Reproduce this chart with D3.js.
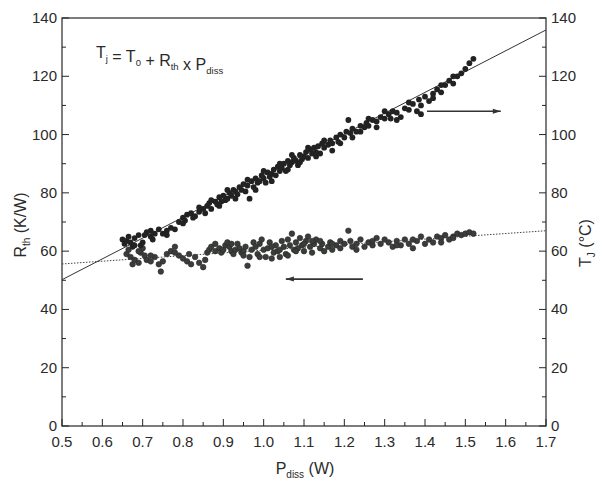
<!DOCTYPE html>
<html><head><meta charset="utf-8">
<script src="https://cdn.jsdelivr.net/npm/d3@7"></script>
<style>body{margin:0;background:#fff}svg{display:block}text{font-family:"Liberation Sans",Arial,sans-serif;fill:#2a2a2a}</style>
</head><body><svg id="c" width="605" height="484"></svg>
<script>
const xTicks = [0.5,0.6,0.7,0.8,0.9,1.0,1.1,1.2,1.3,1.4,1.5,1.6,1.7];
const yTicks = [0,20,40,60,80,100,120,140];
const tjX = [0.650,0.655,0.660,0.665,0.670,0.675,0.680,0.690,0.695,0.700,0.705,0.710,0.720,0.725,0.730,0.740,0.750,0.760,0.770,0.780,0.790,0.800,0.805,0.810,0.820,0.825,0.830,0.840,0.850,0.855,0.860,0.865,0.870,0.880,0.885,0.890,0.895,0.900,0.905,0.910,0.915,0.920,0.925,0.930,0.935,0.940,0.945,0.950,0.955,0.960,0.965,0.970,0.975,0.980,0.985,0.990,0.995,1.000,1.005,1.010,1.015,1.020,1.025,1.030,1.035,1.040,1.045,1.050,1.055,1.060,1.065,1.070,1.075,1.080,1.085,1.090,1.095,1.100,1.105,1.110,1.115,1.120,1.125,1.130,1.135,1.140,1.145,1.150,1.160,1.165,1.170,1.180,1.185,1.190,1.200,1.210,1.205,1.215,1.220,1.230,1.240,1.250,1.255,1.260,1.270,1.280,1.290,1.300,1.310,1.315,1.320,1.330,1.340,1.350,1.360,1.370,1.380,1.385,1.390,1.400,1.410,1.420,1.430,1.440,1.450,1.460,1.470,1.480,1.490,1.500,1.510,1.520,
  0.68,0.72,0.76,0.80,0.84,0.87,0.89,0.91,0.93,0.96,0.98,1.00,1.02,1.04,1.06,1.07,1.09,1.11,1.13,1.15,1.17,1.19,1.22,1.24,1.26,1.28,1.30,1.33,1.36,1.39,1.42,1.44,1.47];
const tjY = [64.0,62.5,63.5,65.0,63.0,61.5,64.5,65.5,62.0,63.0,65.5,66.5,65.0,64.0,66.0,67.5,66.0,67.0,68.0,67.5,70.0,71.5,70.5,72.5,73.0,71.5,72.0,73.5,74.5,73.0,75.5,76.5,74.5,77.0,76.0,78.5,77.0,79.0,77.5,78.0,80.0,79.0,81.0,80.5,79.5,82.0,81.0,83.0,80.5,82.5,78.0,84.0,82.0,85.0,83.5,84.0,86.0,85.0,83.5,87.0,85.5,86.5,88.0,86.0,89.0,87.5,88.5,90.0,87.5,91.0,89.5,90.5,92.0,91.0,89.5,93.0,91.5,92.5,94.0,92.0,95.0,93.5,95.5,94.0,96.0,93.5,97.0,95.5,96.5,98.0,97.0,99.0,97.5,100.0,99.0,105.0,101.0,100.5,102.0,101.0,103.0,102.5,104.0,103.0,105.0,104.5,106.0,105.5,107.0,105.5,108.0,107.5,106.0,109.0,108.5,110.5,108.0,112.0,110.0,113.0,111.5,114.0,115.5,114.5,117.0,118.5,117.5,120.0,121.0,122.5,124.5,126.0,
  62.0,67.0,65.5,69.5,75.0,77.5,75.5,81.0,78.0,84.5,81.0,87.5,84.0,90.0,88.0,93.0,90.5,95.5,92.5,98.0,94.5,97.0,99.0,101.0,105.5,102.5,108.0,105.0,111.0,107.0,112.5,117.0,120.0];
const rthX = [0.660,0.665,0.670,0.675,0.680,0.690,0.695,0.700,0.705,0.710,0.720,0.730,0.740,0.745,0.750,0.760,0.770,0.780,0.790,0.800,0.810,0.815,0.820,0.830,0.840,0.850,0.855,0.860,0.865,0.870,0.880,0.890,0.895,0.900,0.905,0.910,0.915,0.920,0.925,0.930,0.935,0.940,0.945,0.950,0.955,0.960,0.965,0.970,0.975,0.980,0.985,0.990,0.995,1.000,1.005,1.010,1.015,1.020,1.025,1.030,1.035,1.040,1.045,1.050,1.055,1.060,1.065,1.070,1.075,1.080,1.085,1.090,1.095,1.100,1.105,1.110,1.115,1.120,1.125,1.130,1.140,1.145,1.150,1.160,1.165,1.170,1.180,1.190,1.200,1.210,1.215,1.220,1.230,1.240,1.250,1.260,1.270,1.280,1.290,1.300,1.310,1.320,1.330,1.340,1.350,1.360,1.370,1.380,1.390,1.400,1.410,1.420,1.430,1.440,1.450,1.460,1.470,1.480,1.490,1.500,1.510,1.520,
  0.69,0.72,0.78,0.88,0.92,0.95,0.99,1.02,1.04,1.06,1.08,1.10,1.12,1.14,1.17,1.19,1.23,1.27,1.33,1.37,1.44,1.47];
const rthY = [59.0,60.5,58.0,55.5,57.0,56.0,59.5,61.0,58.5,57.0,56.5,58.0,55.5,53.0,56.5,59.0,60.0,61.5,58.5,57.5,56.5,59.0,55.5,58.0,56.0,54.5,57.0,59.5,60.5,61.5,62.5,61.0,59.5,60.5,62.0,63.0,61.5,60.0,59.0,60.5,62.5,61.0,59.5,60.0,61.5,55.0,58.0,60.5,63.0,61.5,59.0,62.5,64.0,60.5,58.0,61.0,63.0,57.5,59.5,62.0,60.0,58.0,63.5,61.5,59.0,64.0,62.0,66.0,60.5,63.0,61.0,64.5,62.0,60.0,63.5,65.0,61.5,59.5,62.5,64.0,61.0,62.5,60.0,61.5,63.0,60.5,62.0,61.0,62.5,67.0,63.5,61.5,62.5,64.0,61.5,63.0,62.0,64.5,62.5,64.0,63.0,61.5,63.5,62.0,64.0,62.5,61.0,63.5,65.0,62.5,64.0,63.0,65.0,64.5,65.5,64.0,65.0,66.0,65.5,66.0,66.5,66.0,
  60.0,58.5,59.5,60.0,62.5,58.5,58.0,61.5,60.5,58.5,60.0,62.5,63.5,63.5,62.5,63.5,60.5,63.5,62.0,64.0,63.0,64.5];
const tjFitX = [0.5,1.7], tjFitY = [50.2,135.9];
const rthFitX = [0.5,1.7], rthFitY = [55.6,67.0];
const arrowR = {x:[1.405,1.588], y:108};
const arrowL = {x:[1.246,1.055], y:50.4};

const svg = d3.select('#c');
const L=62,R=546,T=18,B=426;
const x = d3.scaleLinear().domain([0.5,1.7]).range([L,R]);
const yL = d3.scaleLinear().domain([0,140]).range([B,T]);
const yR = d3.scaleLinear().domain([0,140]).range([B,T]);
const ink = '#262626';

svg.append('rect').attr('x',L).attr('y',T).attr('width',R-L).attr('height',B-T).attr('fill','none').attr('stroke',ink).attr('stroke-width',1.2);

const minorX = d3.range(0.55,1.7,0.1);
const minorY = d3.range(10,140,20);
const g = svg.append('g');
xTicks.forEach(v=>g.append('line').attr('x1',x(v)).attr('x2',x(v)).attr('y1',B).attr('y2',B-7).attr('stroke',ink));
minorX.forEach(v=>g.append('line').attr('x1',x(v)).attr('x2',x(v)).attr('y1',B).attr('y2',B-4).attr('stroke',ink));
yTicks.forEach(v=>{
  g.append('line').attr('x1',L).attr('x2',L+7).attr('y1',yL(v)).attr('y2',yL(v)).attr('stroke',ink);
  g.append('line').attr('x1',R).attr('x2',R-7).attr('y1',yR(v)).attr('y2',yR(v)).attr('stroke',ink);
});
minorY.forEach(v=>{
  g.append('line').attr('x1',L).attr('x2',L+4).attr('y1',yL(v)).attr('y2',yL(v)).attr('stroke',ink);
  g.append('line').attr('x1',R).attr('x2',R-4).attr('y1',yR(v)).attr('y2',yR(v)).attr('stroke',ink);
});
const fs = 15;
xTicks.forEach(v=>svg.append('text').attr('x',x(v)).attr('y',B+21).attr('text-anchor','middle').attr('font-size',fs).text(v.toFixed(1)));
yTicks.forEach(v=>{
  svg.append('text').attr('x',L-5).attr('y',yL(v)+5).attr('text-anchor','end').attr('font-size',fs).text(v);
  svg.append('text').attr('x',R+5).attr('y',yR(v)+5).attr('text-anchor','start').attr('font-size',fs).text(v);
});

const line = d3.line().x(d=>x(d[0])).y(d=>yL(d[1]));
svg.append('path').attr('d',line(d3.zip(rthFitX,rthFitY))).attr('fill','none').attr('stroke','#444').attr('stroke-width',1).attr('stroke-dasharray','1.5,1.5');
svg.append('path').attr('d',line(d3.zip(tjFitX,tjFitY))).attr('fill','none').attr('stroke','#333').attr('stroke-width',1);

svg.append('g').selectAll('circle').data(d3.zip(rthX,rthY)).join('circle')
  .attr('cx',d=>x(d[0])).attr('cy',d=>yL(d[1])).attr('r',2.8).attr('fill','#3a3d3a').attr('stroke','#2a2a2a').attr('stroke-width',0.6);
svg.append('g').selectAll('circle').data(d3.zip(tjX,tjY)).join('circle')
  .attr('cx',d=>x(d[0])).attr('cy',d=>yR(d[1])).attr('r',2.9).attr('fill','#222');

function arrow(a, sc){
  const x1=x(a.x[0]), x2=x(a.x[1]), yy=sc(a.y);
  svg.append('line').attr('x1',x1).attr('x2',x2).attr('y1',yy).attr('y2',yy).attr('stroke','#333').attr('stroke-width',1.6);
  const d = x2>x1?1:-1;
  svg.append('path').attr('d',`M${x2},${yy} L${x2-d*8},${yy-2.5} L${x2-d*8},${yy+2.5} Z`).attr('fill','#333');
}
arrow(arrowR, yR);
arrow(arrowL, yL);

const eq = svg.append('text').attr('x',96).attr('y',58).attr('font-size',16);
const sub = (t,s)=>{eq.append('tspan').text(t); eq.append('tspan').attr('font-size',9.5).attr('dy',4).text(s); eq.append('tspan').attr('dy',-4).text('');};
sub('T','j'); eq.append('tspan').text(' = ');
sub('T','0'); eq.append('tspan').text(' + ');
sub('R','th'); eq.append('tspan').text(' x ');
sub('P','diss');

const xl = svg.append('text').attr('x',305).attr('y',474).attr('text-anchor','middle').attr('font-size',16);
xl.append('tspan').text('P'); xl.append('tspan').attr('font-size',10).attr('dy',4).text('diss'); xl.append('tspan').attr('dy',-4).text(' (W)');
const yl = svg.append('text').attr('transform','translate(26,225) rotate(-90)').attr('text-anchor','middle').attr('font-size',16);
yl.append('tspan').text('R'); yl.append('tspan').attr('font-size',10).attr('dy',4).text('th'); yl.append('tspan').attr('dy',-4).text(' (K/W)');
const yr = svg.append('text').attr('transform','translate(591,243) rotate(-90)').attr('text-anchor','middle').attr('font-size',16);
yr.append('tspan').text('T'); yr.append('tspan').attr('font-size',10).attr('dy',4).text('J'); yr.append('tspan').attr('dy',-4).text(' (°C)');
</script></body></html>
